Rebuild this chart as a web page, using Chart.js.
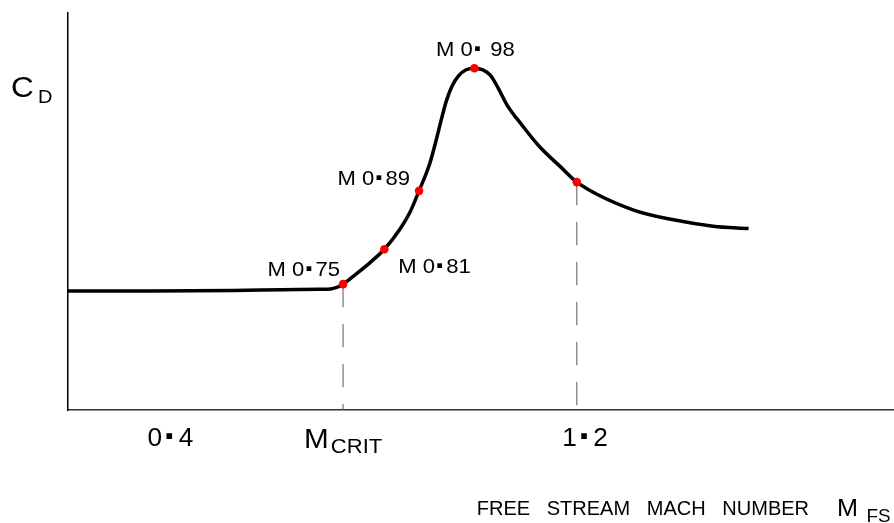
<!DOCTYPE html>
<html>
<head>
<meta charset="utf-8">
<script src="https://cdn.jsdelivr.net/npm/chart.js@4/dist/chart.umd.min.js"></script>
<style>
  html, body { margin: 0; padding: 0; background: #fff; }
  canvas { display: block; }
</style>
</head>
<body>
<canvas id="dragChart" width="894" height="523"></canvas>
<script>
// DATA (schematic units, axis runs 0..10 both ways)
const curveX = [0, 1.0, 2.0, 2.6, 3.05, 3.18, 3.27, 3.33, 3.49, 3.66, 3.83, 4.02, 4.14, 4.25, 4.38, 4.46, 4.52, 4.58, 4.65, 4.73, 4.82, 4.92, 5.11, 5.21, 5.31, 5.51, 5.71, 5.96, 6.16, 6.84, 7.33, 7.81, 8.24];
const curveY = [3.0, 3.0, 3.01, 3.03, 3.04, 3.05, 3.10, 3.17, 3.43, 3.72, 4.05, 4.56, 4.98, 5.52, 6.21, 6.82, 7.32, 7.78, 8.16, 8.42, 8.57, 8.61, 8.44, 8.10, 7.70, 7.14, 6.63, 6.13, 5.74, 5.04, 4.79, 4.63, 4.57];

const markerX = [3.33, 3.83, 4.25, 4.92, 6.16];
const markerY = [3.17, 4.05, 5.52, 8.61, 5.74];
const markerLabels = ['M 0·75', 'M 0·81', 'M 0·89', 'M 0· 98', ''];

const dropX = [3.33, 6.16];
const dropY = [3.17, 5.74];

const tickX = [1.24, 3.33, 6.26];
const tickLabels = ['0·4', 'M_CRIT', '1·2'];

const yTitle = 'C_D';
const xTitle = 'FREE   STREAM   MACH   NUMBER';
const xTitleSymbol = 'M_FS';

// STYLE
const FONT = '"Liberation Sans", Arial, Helvetica, sans-serif';
// where each marker label sits relative to its point: [align, dx, dy]
const labelPlace = [['right', -3, -8], ['left', 14, 24], ['right', -9, -6], ['center', 1, -12], ['left', 0, 0]];

// HELPER FUNCTIONS

// split "0·4" into runs so the dot can be drawn heavier, "M_CRIT" into base + subscript
function makeRuns(text, size, opts) {
    opts = opts || {};
    const runs = [];
    if (text.includes('_')) {
        const parts = text.split('_');
        runs.push({ t: parts[0], font: `${size}px ${FONT}` });
        const sub = opts.subSize || Math.round(size * 0.78);
        runs.push({ t: parts[1], font: `${sub}px ${FONT}`, dy: opts.subDy || size * 0.22, gap: opts.subGap || 1 });
        return runs;
    }
    const parts = text.split('·');
    parts.forEach((p, i) => {
        if (i > 0) {
            runs.push({ t: '·', font: `bold ${Math.round(size * 1.5)}px ${FONT}`, dy: size * 0.13, gap: opts.dotPad || 0, after: opts.dotPad || 0 });
        }
        if (p) runs.push({ t: p, font: `${size}px ${FONT}` });
    });
    return runs;
}

function drawRuns(ctx, runs, x, y, align, sx) {
    sx = sx || 1;
    let total = 0;
    runs.forEach(r => {
        ctx.font = r.font;
        r.w = ctx.measureText(r.t).width + (r.gap || 0) + (r.after || 0);
        total += r.w;
    });
    let start = x;
    if (align === 'right') start = x - total * sx;
    if (align === 'center') start = x - total * sx / 2;
    ctx.save();
    ctx.translate(start, y);
    ctx.scale(sx, 1);
    let px = 0;
    runs.forEach(r => {
        ctx.font = r.font;
        ctx.fillText(r.t, px + (r.gap || 0), r.dy || 0);
        px += r.w;
    });
    ctx.restore();
}

// LABEL PLUGIN
const textPlugin = {
    id: 'schematicText',
    afterDraw(chart) {
        const ctx = chart.ctx;
        const xs = chart.scales.x;
        const ys = chart.scales.y;
        ctx.save();
        ctx.fillStyle = '#000';
        ctx.textBaseline = 'alphabetic';
        ctx.textAlign = 'left';

        // point labels
        markerLabels.forEach((label, i) => {
            if (!label) return;
            const px = xs.getPixelForValue(markerX[i]);
            const py = ys.getPixelForValue(markerY[i]);
            const place = labelPlace[i];
            drawRuns(ctx, makeRuns(label, 21), px + place[1], py + place[2], place[0], 1.05);
        });

        // x tick labels
        const base = xs.bottom + 36;
        tickLabels.forEach((label, i) => {
            const px = xs.getPixelForValue(tickX[i]);
            if (label.includes('_')) {
                drawRuns(ctx, makeRuns(label, 27, { subSize: 20, subDy: 5, subGap: 2 }), px, base + 2, 'center', 1.1);
            } else {
                drawRuns(ctx, makeRuns(label, 25, { dotPad: 1.5 }), px, base, 'center', 1.05);
            }
        });

        // y title
        drawRuns(ctx, makeRuns(yTitle, 30, { subSize: 19, subDy: 6, subGap: 4 }), 11, 97, 'left', 1.05);

        // x title
        ctx.font = `20px ${FONT}`;
        ctx.textAlign = 'right';
        ctx.fillText(xTitle, 809, 515);
        ctx.textAlign = 'left';
        drawRuns(ctx, makeRuns(xTitleSymbol, 24, { subSize: 18, subDy: 6, subGap: 8 }), 837, 516, 'left', 1.05);

        ctx.restore();
    }
};

// CHART
const ctxDrag = document.getElementById('dragChart').getContext('2d');
const dragChart = new Chart(ctxDrag, {
    type: 'line',
    data: {
        datasets: [
            {
                label: 'markers',
                data: markerX.map((x, i) => ({ x: x, y: markerY[i] })),
                showLine: false,
                pointRadius: 4.3,
                pointBackgroundColor: '#ff0000',
                pointBorderWidth: 0,
                order: 0
            },
            {
                label: 'CD',
                data: curveX.map((x, i) => ({ x: x, y: curveY[i] })),
                borderColor: '#000',
                borderWidth: 3.5,
                pointRadius: 0,
                cubicInterpolationMode: 'monotone',
                fill: false,
                order: 1
            },
            ...dropX.map((x, i) => ({
                label: 'drop' + i,
                data: [{ x: x, y: dropY[i] }, { x: x, y: 0 }],
                borderColor: '#555',
                borderWidth: 1,
                borderDash: [23, 17],
                pointRadius: 0,
                fill: false,
                order: 2
            }))
        ]
    },
    options: {
        responsive: false,
        animation: false,
        devicePixelRatio: 1,
        layout: { autoPadding: false, padding: { left: 68, top: 13, right: 0, bottom: 113 } },
        scales: {
            x: {
                type: 'linear',
                min: 0,
                max: 10,
                grid: { display: false, drawTicks: false },
                ticks: { display: false },
                border: { display: true, color: '#333', width: 1.5 },
                afterFit: s => { s.height = 0; }
            },
            y: {
                type: 'linear',
                min: 0,
                max: 10,
                grid: { display: false, drawTicks: false },
                ticks: { display: false },
                border: { display: true, color: '#000', width: 1.5 },
                afterFit: s => { s.width = 0; }
            }
        },
        plugins: {
            legend: { display: false },
            tooltip: { enabled: false }
        }
    },
    plugins: [textPlugin]
});
</script>
</body>
</html>
